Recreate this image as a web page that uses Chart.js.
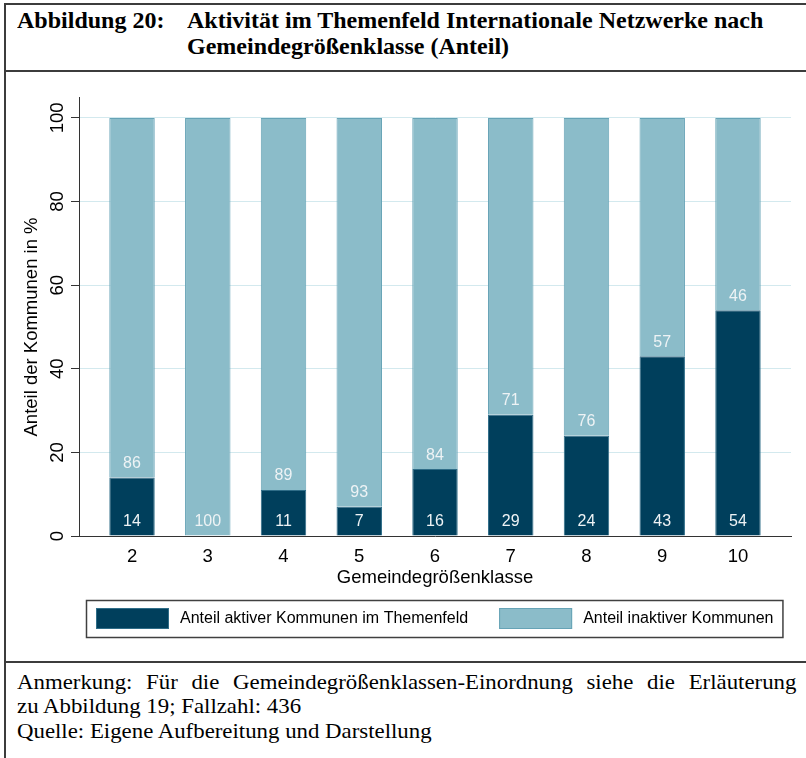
<!DOCTYPE html>
<html>
<head>
<meta charset="utf-8">
<script src="https://cdn.jsdelivr.net/npm/chart.js@4.4.0/dist/chart.umd.min.js"></script>
<style>
html,body{margin:0;padding:0;background:#fff;}
body{width:806px;height:758px;position:relative;overflow:hidden;}
.ln{position:absolute;background:#3c3c3c;}
.ttl{position:absolute;font-family:"Liberation Serif","Times New Roman",serif;font-weight:bold;font-size:22.5px;line-height:26px;color:#000;white-space:nowrap;transform:scaleX(1.067);transform-origin:0 0;}
.note{position:absolute;left:17px;font-family:"Liberation Serif","Times New Roman",serif;font-size:21px;line-height:24.5px;color:#000;white-space:nowrap;transform:scaleX(1.087);transform-origin:0 0;}
#n1{width:717px;text-align:justify;text-align-last:justify;}
#cv{position:absolute;left:0;top:73px;}
</style>
</head>
<body>
<div class="ln" style="left:4px;top:3px;width:802px;height:2px;"></div>
<div class="ln" style="left:4px;top:3px;width:2px;height:755px;"></div>
<div class="ln" style="left:4px;top:70px;width:802px;height:2px;"></div>
<div class="ln" style="left:4px;top:661px;width:802px;height:2px;"></div>
<div class="ttl" style="left:17px;top:8px;">Abbildung 20:</div>
<div class="ttl" style="left:187px;top:8px;">Aktivität im Themenfeld Internationale Netzwerke nach<br>Gemeindegrößenklasse (Anteil)</div>
<canvas id="cv" width="806" height="587"></canvas>
<div class="note" id="n1" style="top:669.7px;">Anmerkung: Für die Gemeindegrößenklassen-Einordnung siehe die Erläuterung</div>
<div class="note" style="top:694.2px;">zu Abbildung 19; Fallzahl: 436</div>
<div class="note" style="top:718.7px;">Quelle: Eigene Aufbereitung und Darstellung</div>
<script>
// ---- data ----
const categories = [2, 3, 4, 5, 6, 7, 8, 9, 10];
const xTickLabels = ['2', '3', '4', '5', '6', '7', '8', '9', '10'];
const activeShare = [14, 0, 11, 7, 16, 29, 24, 43, 54];
const inactiveShare = [86, 100, 89, 93, 84, 71, 76, 57, 46];
const yTicks = [0, 20, 40, 60, 80, 100];
const yTickLabels = ['0', '20', '40', '60', '80', '100'];
const seriesLabels = ['Anteil aktiver Kommunen im Themenfeld', 'Anteil inaktiver Kommunen'];
const xTitle = 'Gemeindegrößenklasse';
const yTitle = 'Anteil der Kommunen in %';

// ---- styles ----
const SANS = '"Liberation Sans", Arial, sans-serif';
const DARK = '#003f5c', DARK_B = '#2f6d88';
const LIGHT = '#8bbcc9', LIGHT_B = '#66a3b6';
const AXIS = '#333333';

const barLabels = {
  id: 'barLabels',
  afterDatasetsDraw(chart) {
    const c = chart.ctx;
    c.save();
    c.font = '16px ' + SANS;
    c.fillStyle = '#eef3f5';
    c.textAlign = 'center';
    c.textBaseline = 'middle';
    chart.data.datasets.forEach((ds, di) => {
      const meta = chart.getDatasetMeta(di);
      meta.data.forEach((el, i) => {
        const v = ds.data[i].y;
        if (!v) return;
        c.fillText(String(v), el.x, el.base - 14);
      });
    });
    c.restore();
  }
};

const axisText = {
  id: 'axisText',
  afterDraw(chart) {
    const c = chart.ctx, ys = chart.scales.y;
    c.save();
    c.fillStyle = '#000';
    c.textAlign = 'center';
    c.textBaseline = 'middle';
    c.font = '18.5px ' + SANS;
    yTicks.forEach((v, i) => {
      c.save();
      c.translate(57.6, ys.getPixelForValue(v));
      c.rotate(-Math.PI / 2);
      c.fillText(yTickLabels[i], 0, 0);
      c.restore();
    });
    c.translate(31.6, (ys.getPixelForValue(0) + ys.getPixelForValue(100)) / 2);
    c.rotate(-Math.PI / 2);
    c.fillText(yTitle, 0, 0);
    c.restore();
  }
};

const boxLegend = {
  id: 'boxLegend',
  afterDraw(chart) {
    const c = chart.ctx, ca = chart.chartArea;
    const ds = chart.data.datasets;
    c.save();
    c.font = '16px ' + SANS;
    const sw = 73, sh = 21, gT = 11, gI = 31;
    const w0 = c.measureText(ds[0].label).width, w1 = c.measureText(ds[1].label).width;
    const total = sw + gT + w0 + gI + sw + gT + w1;
    const cx = (ca.left + ca.right) / 2;
    let x = Math.round(cx - total / 2);
    const top = ca.bottom + 64;
    c.strokeStyle = '#404040';
    c.lineWidth = 1.5;
    c.strokeRect(x - 9.5, top + 0.5, total + 19, 37);
    [0, 1].forEach(k => {
      c.fillStyle = ds[k].backgroundColor;
      c.fillRect(x, top + 8, sw, sh);
      c.strokeStyle = ds[k].borderColor;
      c.lineWidth = 1;
      c.strokeRect(x + 0.5, top + 8.5, sw - 1, sh - 1);
      c.fillStyle = '#000';
      c.textAlign = 'left';
      c.textBaseline = 'middle';
      c.fillText(ds[k].label, x + sw + gT, top + 19);
      x += sw + gT + (k === 0 ? w0 : w1) + gI;
    });
    c.restore();
  }
};

new Chart(document.getElementById('cv'), {
  type: 'bar',
  data: {
    datasets: [
      {
        label: seriesLabels[0],
        data: categories.map((c, i) => ({ x: c, y: activeShare[i] })),
        backgroundColor: DARK, borderColor: DARK_B, borderWidth: 1,
        barPercentage: 0.6, categoryPercentage: 1
      },
      {
        label: seriesLabels[1],
        data: categories.map((c, i) => ({ x: c, y: inactiveShare[i] })),
        backgroundColor: LIGHT, borderColor: LIGHT_B, borderWidth: 1,
        barPercentage: 0.6, categoryPercentage: 1
      }
    ]
  },
  options: {
    responsive: false,
    animation: false,
    layout: { padding: { top: 24, right: 15, left: 0, bottom: 64 } },
    plugins: { legend: { display: false }, tooltip: { enabled: false } },
    scales: {
      x: {
        type: 'linear', stacked: true, min: 1.3, max: 10.7, offset: false,
        afterBuildTicks: s => { s.ticks = categories.map(v => ({ value: v })); },
        afterFit: s => { s.height = 60; },
        ticks: {
          callback: v => xTickLabels[categories.indexOf(v)],
          font: { family: SANS, size: 18.5 }, color: '#000', padding: 10,
          autoSkip: false, maxRotation: 0, minRotation: 0
        },
        grid: { display: false, drawTicks: false, offset: false },
        border: { display: true, color: AXIS, width: 1 },
        title: {
          display: true, text: xTitle, color: '#000',
          font: { family: SANS, size: 18.5 }, padding: { top: 0, bottom: 7 }
        }
      },
      y: {
        type: 'linear', stacked: true, min: 0, max: 105,
        afterBuildTicks: s => { s.ticks = yTicks.map(v => ({ value: v })); },
        afterFit: s => { s.width = 79; },
        ticks: { display: false },
        grid: { color: '#d3e9ee', lineWidth: 1, drawTicks: true, tickLength: 8, tickColor: AXIS },
        border: { display: true, color: AXIS, width: 1 }
      }
    }
  },
  plugins: [barLabels, axisText, boxLegend]
});
</script>
</body>
</html>
